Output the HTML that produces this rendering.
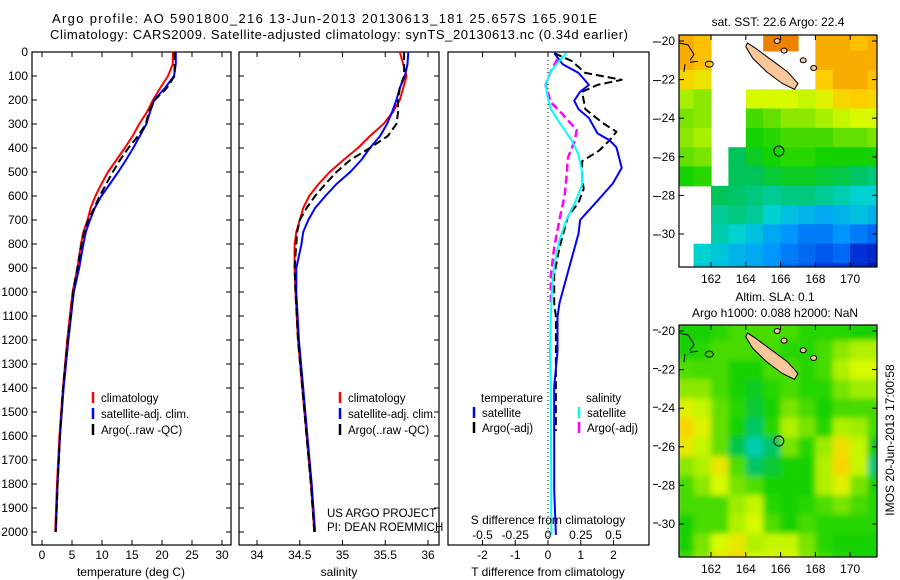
<!DOCTYPE html>
<html><head><meta charset="utf-8"><style>
body{margin:0;background:#fff}
svg{display:block;font-family:"Liberation Sans",sans-serif}
</style></head><body>
<svg id="fig" width="900" height="580" viewBox="0 0 900 580" xmlns="http://www.w3.org/2000/svg">
<defs>
<clipPath id="cp1"><rect x="32" y="52" width="199" height="493"/></clipPath>
<clipPath id="cp2"><rect x="239" y="52" width="200" height="493"/></clipPath>
<clipPath id="cp3"><rect x="448" y="52" width="201" height="493"/></clipPath>
<clipPath id="cpm1"><rect x="679" y="35" width="198" height="232"/></clipPath>
<clipPath id="cpm2"><rect x="679" y="325" width="198" height="232"/></clipPath>
<filter id="blur2" filterUnits="userSpaceOnUse" x="672" y="321" width="212" height="250"><feGaussianBlur stdDeviation="3" edgeMode="duplicate"/></filter>
</defs>
<text x="52" y="23" font-size="13" textLength="545">Argo profile: AO 5901800_216 13-Jun-2013 20130613_181 25.657S 165.901E</text>
<text x="50" y="39" font-size="13" textLength="578">Climatology: CARS2009. Satellite-adjusted climatology: synTS_20130613.nc (0.34d earlier)</text>
<g id="layer"></g>
</svg>
<script>
// ---- data ----
const depths = [0,50,100,150,200,250,300,350,400,450,500,550,600,650,700,750,800,900,1000,1200,1400,1600,1800,2000];
const tempClim = [21.8,21.8,21.0,19.7,18.5,17.5,16.2,15.1,13.8,12.4,11.0,9.9,8.9,8.1,7.6,6.9,6.5,5.9,5.1,4.2,3.5,2.9,2.5,2.2];
const tempSat  = [22.3,22.3,22.0,20.5,18.7,18.0,17.4,16.3,15.2,14.0,12.7,11.3,9.9,8.8,8.0,7.3,6.9,6.2,5.3,4.4,3.6,3.0,2.6,2.3];
const tempArgo = [22.1,22.1,22.1,20.8,18.8,17.8,17.3,16.0,14.4,13.0,11.8,10.7,9.6,8.7,7.7,7.0,6.6,5.9,5.2,4.3,3.5,3.0,2.6,2.3];
const salClim = [35.67,35.71,35.75,35.71,35.67,35.59,35.48,35.32,35.18,35.01,34.85,34.72,34.61,34.54,34.50,34.46,34.44,34.44,34.45,34.48,34.53,34.58,34.63,34.67];
const salSat  = [35.77,35.76,35.73,35.67,35.63,35.58,35.52,35.44,35.32,35.22,35.09,34.93,34.80,34.68,34.60,34.54,34.52,34.46,34.46,34.49,34.54,34.59,34.64,34.68];
const salArgo = [35.72,35.72,35.72,35.67,35.65,35.65,35.63,35.53,35.32,35.09,34.93,34.80,34.68,34.58,34.50,34.47,34.46,34.44,34.45,34.48,34.53,34.58,34.63,34.67];
const dTSatDepth = [5,51,87,137,166,203,238,275,339,368,397,483,548,628,700,757,887,1046,1103,1248,1392,1824,2012];
const dTSat = [0.19,0.45,0.93,1.25,0.98,0.80,0.93,1.25,1.51,1.88,2.09,2.25,1.98,1.46,0.98,0.93,0.67,0.35,0.29,0.29,0.19,0.19,0.24];
const dTArgoDepth = [5,37,87,116,137,166,238,296,332,368,411,455,527,570,628,685,815,930,1046,1103,1579];
const dTArgo = [0.19,0.72,1.14,2.25,1.51,1.04,1.14,1.67,2.09,1.88,1.56,1.04,1.04,1.09,0.93,0.61,0.35,0.19,0.19,0.24,0.24];
const dSSatDepth = [5,37,80,137,181,238,282,325,368,426,498,555,628,700,786,887,959,1103,1248,1392,2012];
const dSSat = [0.14,0.087,0.021,-0.019,-0.005,0.021,0.073,0.127,0.18,0.232,0.259,0.259,0.205,0.14,0.087,0.047,0.034,0.021,0.015,0.021,0.026];
const dSArgoDepth = [29,80,137,210,253,325,368,440,527,599,700,815,930,1046];
const dSArgo = [0.073,0.021,-0.019,0.021,0.1,0.219,0.205,0.153,0.14,0.127,0.087,0.047,0.021,0.021];
const depthTicks = [0,100,200,300,400,500,600,700,800,900,1000,1100,1200,1300,1400,1500,1600,1700,1800,1900,2000];
const tempTicks = [0,5,10,15,20,25,30];
const salTicks = [34,34.5,35,35.5,36];
const salTickLabels = ["34","34.5","35","35.5","36"];
const dTTicks = [-2,-1,0,1,2];
const dSTicks = [-0.5,-0.25,0,0.25,0.5];
const dSTickLabels = ["-0.5","-0.25","0","0.25","0.5"];
const latTicks = [-20,-22,-24,-26,-28,-30];
const lonTicks = [162,164,166,168,170];
const mapLats = [-20,-21,-22,-23,-24,-25,-26,-27,-28,-29,-30,-31,-32];
const mapLons = [160.5,161.5,162.5,163.5,164.5,165.5,166.5,167.5,168.5,169.5,170.5,171.5];
const sstGrid = [
[0.85,0.82,-1,-1,-1,0.92,0.92,-1,0.85,0.85,0.82,0.85],
[0.85,0.82,-1,-1,-1,-1,-1,-1,0.85,0.85,0.85,0.85],
[0.78,0.75,-1,-1,-1,-1,-1,-1,0.8,0.85,0.85,0.82],
[0.65,0.62,-1,-1,0.7,0.7,0.7,0.68,0.72,0.78,0.8,0.78],
[0.6,0.62,-1,-1,0.55,0.58,0.62,0.62,0.65,0.68,0.7,0.7],
[0.62,0.65,-1,-1,0.5,0.52,0.55,0.55,0.55,0.58,0.58,0.6],
[0.58,0.6,-1,0.45,0.48,0.5,0.52,0.52,0.5,0.5,0.5,0.5],
[0.5,0.52,-1,0.45,0.45,0.47,0.48,0.48,0.47,0.46,0.44,0.42],
[-1,-1,0.45,0.44,0.42,0.4,0.42,0.42,0.4,0.38,0.35,0.35],
[-1,-1,0.4,0.42,0.4,0.35,0.32,0.3,0.28,0.3,0.32,0.3],
[-1,-1,0.38,0.35,0.32,0.28,0.25,0.22,0.22,0.25,0.22,0.2],
[-1,0.35,0.33,0.3,0.28,0.25,0.22,0.2,0.18,0.2,0.12,0.1],
[-1,0.33,0.32,0.3,0.28,0.25,0.2,0.18,0.15,0.15,0.1,0.05]];
const slaGrid = [
[0.5,0.5,0.52,0.55,0.55,0.55,0.55,0.52,0.52,0.52,0.5,0.5],
[0.5,0.52,0.55,0.55,0.55,0.55,0.52,0.52,0.55,0.62,0.66,0.66],
[0.56,0.55,0.55,0.5,0.5,0.55,0.55,0.52,0.55,0.66,0.7,0.7],
[0.62,0.62,0.55,0.5,0.48,0.52,0.55,0.52,0.52,0.6,0.64,0.64],
[0.72,0.68,0.58,0.52,0.47,0.5,0.6,0.55,0.5,0.55,0.55,0.55],
[0.78,0.72,0.58,0.5,0.44,0.52,0.66,0.6,0.52,0.66,0.64,0.55],
[0.74,0.68,0.58,0.46,0.38,0.44,0.6,0.52,0.64,0.76,0.68,0.48],
[0.62,0.66,0.74,0.56,0.44,0.47,0.5,0.5,0.66,0.78,0.68,0.42],
[0.55,0.62,0.7,0.6,0.56,0.5,0.5,0.5,0.66,0.72,0.6,0.5],
[0.55,0.55,0.55,0.64,0.68,0.52,0.5,0.52,0.56,0.6,0.55,0.52],
[0.5,0.55,0.55,0.66,0.7,0.56,0.5,0.55,0.52,0.52,0.52,0.52],
[0.5,0.6,0.7,0.74,0.66,0.68,0.68,0.6,0.52,0.5,0.5,0.5],
[0.55,0.62,0.76,0.78,0.7,0.72,0.72,0.62,0.55,0.52,0.5,0.5]];

// ---- scales ----
const yD = d => 52 + 0.24*d;
const xT = t => 42 + 6*t;
const xS = s => 257 + 85.5*(s-34);
const xDT = t => 548 + 32.75*t;
const xDS = s => 548 + 131*s;
const xLon = l => 711 + 17.4*(l-162);
const yLat1 = l => 41 + 19.3*(-20-l);
const yLat2 = l => 331 + 19.3*(-20-l);

const NS="http://www.w3.org/2000/svg";
const layer=document.getElementById('layer');
function mk(tag, attrs, parent){const e=document.createElementNS(NS,tag);for(const k in attrs)e.setAttribute(k,attrs[k]);(parent||layer).appendChild(e);return e;}
function txt(x,y,s,size,anchor,parent){const e=mk('text',{x:x,y:y,'font-size':size,'text-anchor':anchor||'start'},parent);e.textContent=s;return e;}

function line(xs, ys, xf, yf, color, w, dash, clip, name){
  const pts=xs.map((v,i)=>xf(v).toFixed(1)+','+yf(ys[i]).toFixed(1)).join(' ');
  const e=mk('polyline',{points:pts,fill:'none',stroke:color,'stroke-width':w,'clip-path':'url(#'+clip+')','stroke-linejoin':'round'});
  if(dash)e.setAttribute('stroke-dasharray',dash);
  
  
}

function frame(x,y,w,h,name){
  const e=mk('rect',{x:x,y:y,width:w,height:h,fill:'none',stroke:'#000','stroke-width':1.2});
  
  
}
function xticks(vals,f,top,bot,labels,ly){
  vals.forEach((v,i)=>{const x=f(v);
    mk('line',{x1:x,y1:bot,x2:x,y2:bot-5,stroke:'#000'});
    mk('line',{x1:x,y1:top,x2:x,y2:top+5,stroke:'#000'});
    if(labels){const t=txt(x,ly,labels[i],12,'middle');
      
      }
  });
}
function yticks(vals,f,left,right,labels){
  vals.forEach((v,i)=>{const y=f(v);
    mk('line',{x1:left,y1:y,x2:left+5,y2:y,stroke:'#000'});
    mk('line',{x1:right,y1:y,x2:right-5,y2:y,stroke:'#000'});
    if(labels){const t=txt(left-4,y+4,labels[i],12,'end');
      
      }
  });
}

// panel 1 temperature
frame(32,52,199,493,'temperature-axes');
xticks(tempTicks,xT,52,545,tempTicks.map(String),559);
yticks(depthTicks,yD,32,231,depthTicks.map(String));
line(tempClim,depths,xT,yD,'#f00',2,null,'cp1','temp-climatology-line');
line(tempSat,depths,xT,yD,'#00f',2,null,'cp1','temp-satellite-line');
line(tempArgo,depths,xT,yD,'#000',2,'8,4','cp1','temp-argo-line');
let t=txt(131,576,'temperature (deg C)',12,'middle');



// panel 2 salinity
frame(239,52,200,493,'salinity-axes');
xticks(salTicks,xS,52,545,salTickLabels,559);
yticks(depthTicks,yD,239,439,null);
line(salClim,depths,xS,yD,'#f00',2,null,'cp2','sal-climatology-line');
line(salSat,depths,xS,yD,'#00f',2,null,'cp2','sal-satellite-line');
line(salArgo,depths,xS,yD,'#000',2,'8,4','cp2','sal-argo-line');
t=txt(339,576,'salinity',12,'middle');



// panel 3 differences
frame(448,52,201,493,'difference-axes');
xticks(dTTicks,xDT,52,545,dTTicks.map(String),559);
mk('line',{x1:548,y1:52,x2:548,y2:545,stroke:'#000','stroke-dasharray':'1,3'});
line(dTArgo,dTArgoDepth,xDT,yD,'#000',2,'8,4','cp3','dT-argo-line');
line(dTSat,dTSatDepth,xDT,yD,'#00f',2,null,'cp3','dT-satellite-line');
line(dSArgo,dSArgoDepth,xDS,yD,'#f0f',2.5,'8,4','cp3','dS-argo-line');
line(dSSat,dSSatDepth,xDS,yD,'#0ff',2,null,'cp3','dS-satellite-line');
dSTicks.forEach((v,i)=>{const e=txt(xDS(v),539,dSTickLabels[i],12,'middle');
  
  });
t=txt(548,524,'S difference from climatology',12,'middle');


t=txt(548,576,'T difference from climatology',12,'middle');


latTicks.forEach(v=>{mk('line',{x1:653,y1:yLat1(v)+1,x2:658,y2:yLat1(v)+1,stroke:'#000'});mk('line',{x1:653,y1:yLat2(v)-1,x2:658,y2:yLat2(v)-1,stroke:'#000'});});

// legends
function legend(x,y,color,label){
  const g=mk('g',{});
  
  
  mk('line',{x1:x,y1:y-10,x2:x,y2:y+1,stroke:color,'stroke-width':2.5},g);
  txt(x+8,y,label,11.5,'start',g);
}
legend(93,402,'#f00','climatology');legend(93,418,'#00f','satellite-adj. clim.');legend(93,434,'#000','Argo(..raw -QC)');
legend(340,402,'#f00','climatology');legend(340,418,'#00f','satellite-adj. clim.');legend(340,434,'#000','Argo(..raw -QC)');
t=txt(481,402,'temperature',11.5);
t=txt(586,402,'salinity',11.5);
legend(474,417,'#00f','satellite');legend(474,432,'#000','Argo(-adj)');
legend(579,417,'#0ff','satellite');legend(579,432,'#f0f','Argo(-adj)');
t=txt(327,517,'US ARGO PROJECT',11.5);
t=txt(327,531,'PI: DEAN ROEMMICH',11.5);

// maps
const stops=[[0,[0,0,150]],[0.15,[0,60,230]],[0.25,[0,150,255]],[0.35,[0,210,210]],[0.45,[0,195,90]],[0.5,[20,210,0]],[0.6,[120,228,0]],[0.7,[215,250,0]],[0.8,[255,205,0]],[0.9,[240,140,0]],[1,[220,90,0]]];
function cmap(v){for(let i=1;i<stops.length;i++){if(v<=stops[i][0]){const a=stops[i-1],b=stops[i],f=(v-a[0])/(b[0]-a[0]);return 'rgb('+a[1].map((c,j)=>Math.round(c+f*(b[1][j]-c))).join(',')+')';}}return 'rgb(220,90,0)';}
function map(grid,yLat,clip,top,name,blur){
  const g=mk('g',{'clip-path':'url(#'+clip+')'});
  
  
  const cells=mk('g',blur?{filter:'url(#'+blur+')'}:{},g);
  grid.forEach((row,r)=>row.forEach((v,c)=>{
    if(v<0)return;
    const x=xLon(mapLons[c]-0.5),y=yLat(mapLats[r]+0.5);
    mk('rect',{x:x.toFixed(1),y:y.toFixed(1),width:18,height:20,fill:cmap(v)},cells);
  }));
  const isl=[[164.1,-20.1],[164.6,-20.4],[165.5,-21.0],[166.4,-21.6],[167.0,-22.2],[166.8,-22.5],[166.1,-22.2],[165.2,-21.6],[164.4,-20.9],[164.0,-20.3]];
  mk('polygon',{points:isl.map(p=>xLon(p[0]).toFixed(1)+','+yLat(p[1]).toFixed(1)).join(' '),fill:'#f9c79a',stroke:'#000','stroke-width':1},g);
  [[167.3,-21.0],[167.9,-21.4],[165.8,-20.0],[166.2,-20.5]].forEach(p=>mk('ellipse',{cx:xLon(p[0]),cy:yLat(p[1]),rx:3,ry:2.5,fill:'#f9c79a',stroke:'#000'},g));
  mk('path',{d:'M679 '+(yLat(-20.1))+' L688 '+yLat(-20.2)+' L694 '+yLat(-20.7)+' L690 '+yLat(-21.0)+' M685 '+yLat(-21.2)+' L684 '+yLat(-21.6)+' M690 '+yLat(-21.1)+' L698 '+yLat(-21.05),fill:'none',stroke:'#000'},g);
  mk('ellipse',{cx:xLon(161.9),cy:yLat(-21.2),rx:4,ry:3,fill:'none',stroke:'#000'},g);
  const c=mk('circle',{cx:xLon(165.9),cy:yLat(-25.7),r:5,fill:'none',stroke:'#000','stroke-width':1},g);
  
  
  frame(679,top,198,232,name+'-frame');
  latTicks.forEach(v=>{const y=yLat(v);mk('line',{x1:679,y1:y,x2:684,y2:y,stroke:'#000'});mk('line',{x1:877,y1:y,x2:872,y2:y,stroke:'#000'});
    const e=txt(675,y+4,String(v),12,'end');});
  lonTicks.forEach(v=>{const x=xLon(v);mk('line',{x1:x,y1:top,x2:x,y2:top+5,stroke:'#000'});mk('line',{x1:x,y1:top+232,x2:x,y2:top+227,stroke:'#000'});
    const e=txt(x,top+248,String(v),12,'middle');});
}
map(sstGrid,yLat1,'cpm1',35,'sst-map',null);
map(slaGrid,yLat2,'cpm2',325,'sla-map','blur2');
t=txt(778,26,'sat. SST: 22.6 Argo: 22.4',12,'middle');
t=txt(775,301,'Altim. SLA: 0.1',12,'middle');
t=txt(775,317,'Argo h1000: 0.088 h2000: NaN',12,'middle');
t=txt(0,0,'IMOS 20-Jun-2013 17:00:58',12,'middle');
t.setAttribute('transform','translate(894,440) rotate(-90)');


</script>
</body></html>
